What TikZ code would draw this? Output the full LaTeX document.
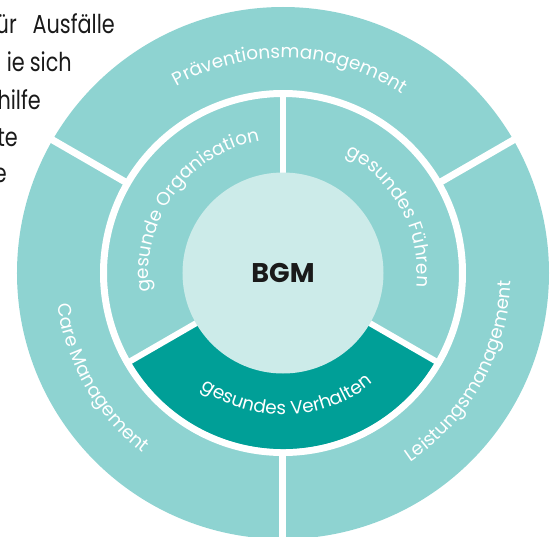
\documentclass[tikz,border=0pt]{standalone}
\usepackage{fontspec}
\setmainfont{Poppins}
\newfontfamily\sidefont[FakeStretch=0.8]{Poppins}
\usetikzlibrary{decorations.text}

\definecolor{ringteal}{HTML}{8ED3D1}
\definecolor{coreteal}{HTML}{CCEBE9}
\definecolor{darkteal}{HTML}{009F97}
\definecolor{inkblack}{HTML}{1A1A1A}
\newcommand{\ringsize}{\fontsize{18.5}{22}\selectfont}

\begin{document}
\begin{tikzpicture}[x=1pt,y=1pt,
    ringlabel/.style={decorate,decoration={text along path,text align=center,
        text color=white,text={|\ringsize|#1}}},
    gap/.style={white,line width=7}]

        \useasboundingbox (-283,-263) rectangle (274,273);
        \clip (-283,-263) rectangle (274,273);

        \begin{scope}[every node/.style={anchor=base east,text=inkblack,inner sep=0,
            font=\sidefont\fontsize{26}{30}\selectfont}]
          \node (l1a) at (-266,239) {ür};
          \node (l1b) at (-168,239) {Ausfälle};
          \node (l2a) at (-258,201) {ie};
          \node (l2b) at (-211,201) {sich};
          \node (l3) at (-242,163) {hilfe};
          \node (l4) at (-265,126) {te};
          \node (l5) at (-276,91)  {e};
        \end{scope}

        \fill[ringteal] (0,0) circle[radius=266];
        \draw[gap] (0,0) circle[radius=179.5];
        \fill[darkteal] (0,0) -- (210:176) arc[start angle=210,end angle=330,radius=176] -- cycle;
        \foreach \a in {30,150,270}
          \draw[gap] (\a:179) -- (\a:275);
        \foreach \a in {90,210,330}
          \draw[gap,line width=6] (\a:90) -- (\a:180);

        \node[circle,fill=coreteal,minimum size=201,inner sep=0,text=inkblack,
          font=\fontsize{27}{30}\selectfont\bfseries] (bgm) at (0,0) {BGM};

        \path[ringlabel={Präventionsmanagement}] (148:215) arc[start angle=148,end angle=28,radius=215];
        \path[ringlabel={Care Management}] (150:228) arc[start angle=150,end angle=270,radius=228];
        \path[ringlabel={Leistungsmanagement}] (271:228) arc[start angle=271,end angle=391,radius=228];
        \path[ringlabel={gesunde Organisation}] (204:134) arc[start angle=204,end angle=84,radius=134];
        \path[ringlabel={gesundes Führen}] (88:134) arc[start angle=88,end angle=-32,radius=134];
        \path[ringlabel={gesundes Verhalten}] (212:142) arc[start angle=212,end angle=332,radius=142];

      \end{tikzpicture}
\end{document}
